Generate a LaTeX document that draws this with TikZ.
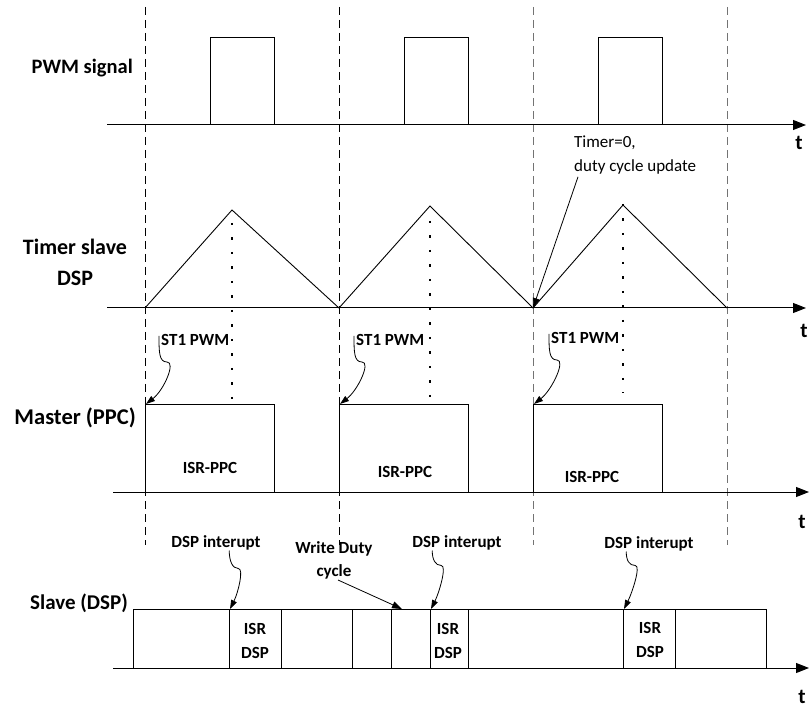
\documentclass[tikz,border=0pt]{standalone}
\usepackage{fontspec}
\setmainfont{Carlito}
\usetikzlibrary{arrows.meta}
\begin{document}
\begin{tikzpicture}[x=1pt,y=-1pt,
  axis/.style={line width=1pt,-{Triangle[length=13pt,width=10pt]}},
  sig/.style={line width=0.9pt},
  grid/.style={line width=0.9pt,dash pattern=on 8pt off 5pt},
  dots/.style={line width=2.2pt,dash pattern=on 2.2pt off 12.3pt},
  lbl/.style={font=\bfseries\fontsize{22}{31}\selectfont, inner sep=0pt},
  small/.style={font=\bfseries\fontsize{17}{24}\selectfont, inner sep=0pt},
  note/.style={font=\fontsize{17}{24}\selectfont, inner sep=0pt, align=left},
  curly/.style={line width=0.8pt,-{Triangle[length=9pt,width=6pt]}},
  straight/.style={line width=0.8pt,-{Triangle[length=10pt,width=7pt]}},
  tl/.style={font=\bfseries\fontsize{21}{24}\selectfont, inner sep=0pt}
]
\useasboundingbox (0,0) rectangle (809,711);

% vertical dashed period lines
\foreach \x/\c in {145/black,339/black,533/black!55,727/black!55}
  \draw[grid,\c] (\x,7) -- (\x,545);

% ---------- PWM signal ----------
\coordinate (pa) at (107,125); \coordinate (pb) at (806,125);
\draw[axis] (pa) -- (pb);
\foreach \x in {210,404,598}
  \draw[sig] (\x,125) |- (\x+64,37) -- (\x+64,125);
\node[lbl, anchor=east, font=\bfseries\fontsize{20.5}{31}\selectfont] (pwm) at (133,68) {PWM signal};
\node[tl] (t1) at (799,143) {t};

% ---------- Timer ----------
\coordinate (ta) at (107,308); \coordinate (tb) at (806,308);
\draw[axis] (ta) -- (tb);
\draw[sig] (145,308) -- (232,210) -- (339,308) -- (430,206) -- (533,308) -- (623,205) -- (727,308);
\draw[dots] (232,223) -- (232,400);
\draw[dots] (430,221) -- (430,404);
\draw[dots] (623,204) -- (623,393);
\node[lbl, align=center] (tim) at (75,262) {Timer slave\\DSP};
\node[tl] (t2) at (804,331) {t};
\node[note, anchor=north west] (tnote) at (574,136) {Timer=0,\\duty cycle update};
\coordinate (z0) at (533,308);
\draw[straight] ([xshift=4pt,yshift=-2pt]tnote.south west) -- (z0);

% ---------- Master (PPC) ----------
\coordinate (ma) at (113,492); \coordinate (mb) at (809,492);
\draw[axis] (ma) -- (mb);
\foreach \x/\n in {145/1,339/2,533/3}{
  \draw[sig] (\x,492) |- (\x+129,404) -- (\x+129,492);
  \coordinate (mc\n) at (\x+1,404);
}
\node[lbl, anchor=east, font=\bfseries\fontsize{22.5}{31}\selectfont] (mst) at (136,418) {Master (PPC)};
\node[small] (ppc1) at (210,468) {ISR-PPC};
\node[small] (ppc2) at (405,472) {ISR-PPC};
\node[small] (ppc3) at (592,477) {ISR-PPC};
\node[tl] (t3) at (802,522) {t};

\node[small, anchor=west] (st1) at (161,340) {ST1 PWM};
\node[small, anchor=west] (st2) at (356,340) {ST1 PWM};
\node[small, anchor=west] (st3) at (551,338) {ST1 PWM};
\foreach \n in {1,2,3}
  \draw[curly] ([xshift=-2pt,yshift=4pt]st\n.west) .. controls +(0,16) and +(-8,0) .. ++(8,26)
     .. controls +(9,0) and +(18,-14) .. (mc\n);

% ---------- Slave (DSP) ----------
\coordinate (sa) at (113,668); \coordinate (sb) at (809,668);
\draw[axis] (sa) -- (sb);
\draw[sig] (133,668) rectangle (766,609);
\foreach \x in {229,281,352,391,430,468,623,675}
  \draw[sig] (\x,609) -- (\x,668);
\node[lbl, anchor=east, font=\bfseries\fontsize{21}{31}\selectfont] (slv) at (128,603) {Slave (DSP)};
\node[small, align=center] (isr1) at (255,641) {ISR\\DSP};
\node[small, align=center] (isr2) at (448,641) {ISR\\DSP};
\node[small, align=center] (isr3) at (650,640) {ISR\\DSP};
\node[tl] (t4) at (802,697) {t};

\node[small] (di1) at (216,543) {DSP interupt};
\node[small] (di2) at (457,543) {DSP interupt};
\node[small] (di3) at (649,544) {DSP interupt};
\coordinate (s1) at (230,609); \coordinate (s2) at (431,609); \coordinate (s3) at (624,609);
\draw[curly] ([xshift=58pt]di1.south west) .. controls +(0,10) and +(-6,0) .. ++(9,18)
   .. controls +(6,0) and +(8,-16) .. (s1);
\draw[curly] ([xshift=20pt]di2.south west) .. controls +(0,9) and +(-6,0) .. ++(9,15)
   .. controls +(6,0) and +(8,-16) .. (s2);
\draw[curly] ([xshift=22pt]di3.south west) .. controls +(0,9) and +(-6,0) .. ++(9,14)
   .. controls +(6,0) and +(8,-16) .. (s3);

\node[small, align=center, font=\bfseries\fontsize{17}{23}\selectfont] (wd) at (334,560) {Write Duty\\cycle};
\coordinate (s4) at (402,609);
\draw[straight] ([xshift=4pt,yshift=-1pt]wd.south) -- (s4);
\end{tikzpicture}
\end{document}
